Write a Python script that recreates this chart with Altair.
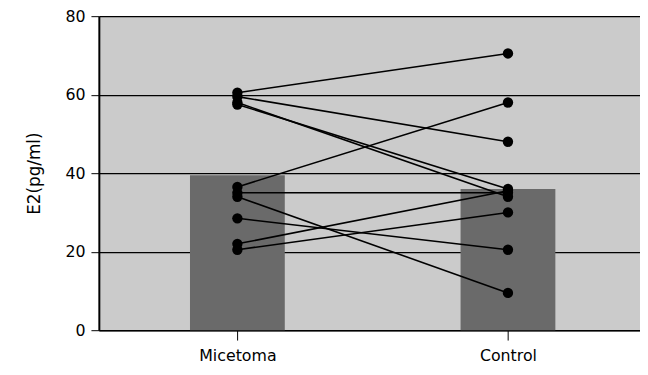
import altair as alt
import pandas as pd

categories = ["Micetoma", "Control"]
bar_means = [39.5, 36.0]
micetoma_vals = [60.5, 59.5, 58.0, 57.5, 36.5, 35.0, 34.0, 28.5, 22.0, 20.5]
control_vals = [70.5, 48.0, 34.0, 36.0, 58.0, 35.0, 9.5, 20.5, 35.5, 30.0]
y_ticks = [0, 20, 40, 60, 80]

bars_df = pd.DataFrame({"group": categories, "value": bar_means})
rows = []
for i, (m, c) in enumerate(zip(micetoma_vals, control_vals)):
    rows.append({"pair": i, "group": categories[0], "value": m})
    rows.append({"pair": i, "group": categories[1], "value": c})
pts_df = pd.DataFrame(rows)

FONT = "DejaVu Sans"

x_enc = alt.X(
    "group:N",
    sort=categories,
    scale=alt.Scale(type="point", padding=0.5, align=0.512),
    axis=alt.Axis(
        title=None, labelAngle=0, labelFont=FONT, labelFontSize=16,
        labelColor="black", tickColor="black", tickSize=10, labelPadding=8,
        domainColor="black", domainWidth=1.5, grid=False,
    ),
)
y_scale = alt.Scale(domain=[0, 80], nice=False)
y_axis = alt.Axis(
    title="E2(pg/ml)", values=y_ticks, labelFont=FONT, labelFontSize=16,
    labelColor="black", titleFont=FONT, titleFontSize=17, titleFontWeight="normal",
    titleColor="black", titlePadding=22, tickColor="black", tickSize=8,
    labelPadding=6, domainColor="black", domainWidth=2,
    grid=True, gridColor="black", gridWidth=1.2,
)

bars = alt.Chart(bars_df).mark_bar(size=96, color="#6a6a6a").encode(
    x=x_enc,
    y=alt.Y("value:Q", scale=y_scale, axis=y_axis),
)

lines = alt.Chart(pts_df).mark_line(color="black", strokeWidth=1.6).encode(
    x=alt.X("group:N", sort=categories),
    y=alt.Y("value:Q"),
    detail="pair:N",
)

points = alt.Chart(pts_df).mark_circle(color="black", size=110, opacity=1).encode(
    x=alt.X("group:N", sort=categories),
    y=alt.Y("value:Q"),
)

chart = alt.layer(bars, lines, points).properties(
    width=548,
    height=318,
    autosize="none",
    padding={"left": 92, "top": 6, "right": 0, "bottom": 35},
    background="white",
).configure_view(
    fill="#cbcbcb", stroke=None
)

chart.save("out.html", embed_options={"renderer": "svg", "actions": False})
